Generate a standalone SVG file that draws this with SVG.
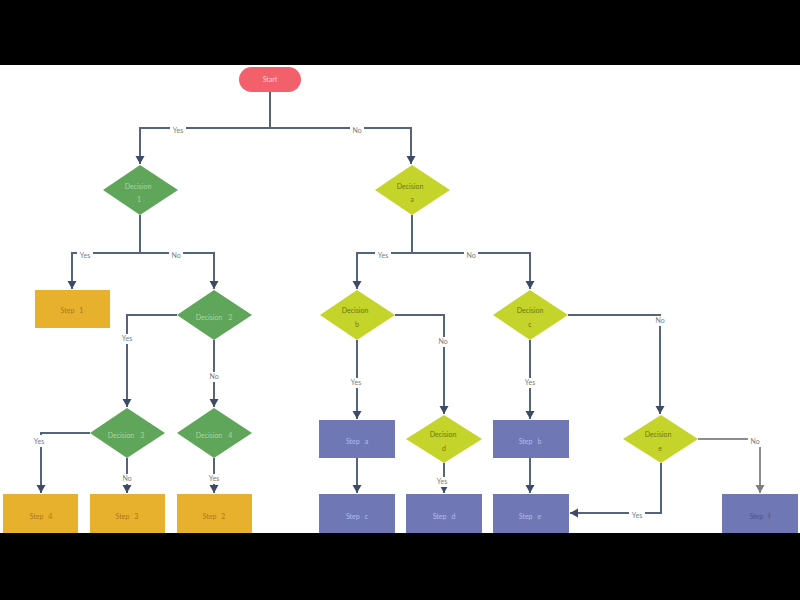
<svg xmlns="http://www.w3.org/2000/svg" width="800" height="600" viewBox="0 0 800 600">
<defs>
<marker id="arr" markerUnits="userSpaceOnUse" markerWidth="10" markerHeight="10" refX="8" refY="4.5" orient="auto"><path d="M0,0 L8,4.5 L0,9 z" fill="#3e4b66"/></marker>
<marker id="arrg" markerUnits="userSpaceOnUse" markerWidth="10" markerHeight="10" refX="8" refY="4.5" orient="auto"><path d="M0,0 L8,4.5 L0,9 z" fill="#7d7d7d"/></marker>
<style>
text{font-family:"Lato","Liberation Sans",sans-serif;font-size:7px;text-anchor:middle}
.c{fill:none;stroke:#56637d;stroke-width:2}
.cg{fill:none;stroke:#8c8c8c;stroke-width:2}
.lb{fill:#ffffff}
.lt{fill:#7a7a7a}
.start{fill:#f2606c}
.g{fill:#5fa55a}
.y{fill:#c5d42a}
.o{fill:#e8b12d}
.p{fill:#6f78b5}
.tg{fill:#a9d6a2}
.ty{fill:#6c7812}
.to{fill:#a8791c}
.tp{fill:#b4bbe4}
.ts{fill:#ffd0d4}
</style>
</defs>
<rect width="800" height="600" fill="#ffffff"/>
<g id="connectors">
<path class="c" d="M270,92 V128 H140 V164" marker-end="url(#arr)"/>
<path class="c" d="M270,128 H411 V164" marker-end="url(#arr)"/>
<path class="c" d="M140,215 V253 H72 V289" marker-end="url(#arr)"/>
<path class="c" d="M140,253 H214 V289" marker-end="url(#arr)"/>
<path class="c" d="M177,315 H127 V407" marker-end="url(#arr)"/>
<path class="c" d="M214,340 V407" marker-end="url(#arr)"/>
<path class="c" d="M90,433 H41 V493" marker-end="url(#arr)"/>
<path class="c" d="M127,458 V493" marker-end="url(#arr)"/>
<path class="c" d="M214,458 V493" marker-end="url(#arr)"/>
<path class="c" d="M412,215 V253 H357 V289" marker-end="url(#arr)"/>
<path class="c" d="M412,253 H530 V289" marker-end="url(#arr)"/>
<path class="c" d="M395,315 H444 V414" marker-end="url(#arr)"/>
<path class="c" d="M357,340 V419" marker-end="url(#arr)"/>
<path class="c" d="M530,340 V419" marker-end="url(#arr)"/>
<path class="c" d="M568,315 H660 V414" marker-end="url(#arr)"/>
<path class="c" d="M357,458 V493" marker-end="url(#arr)"/>
<path class="c" d="M444,463 V493" marker-end="url(#arr)"/>
<path class="c" d="M530,458 V493" marker-end="url(#arr)"/>
<path class="c" d="M661,463 V513 H570" marker-end="url(#arr)"/>
<path class="cg" d="M698,439 H760 V493" marker-end="url(#arrg)"/>
<g>
<rect class="lb" x="170" y="125" width="16" height="10"/><text class="lt" x="178" y="133">Yes</text>
<rect class="lb" x="350" y="125" width="14" height="10"/><text class="lt" x="357" y="133">No</text>
<rect class="lb" x="77" y="250" width="16" height="10"/><text class="lt" x="85" y="258">Yes</text>
<rect class="lb" x="169" y="250" width="14" height="10"/><text class="lt" x="176" y="258">No</text>
<rect class="lb" x="119" y="334" width="16" height="10"/><text class="lt" x="127" y="341">Yes</text>
<rect class="lb" x="207" y="372" width="14" height="10"/><text class="lt" x="214" y="379">No</text>
<rect class="lb" x="30" y="435" width="20" height="12"/><text class="lt" x="39" y="444">Yes</text>
<rect class="lb" x="120" y="474" width="14" height="10"/><text class="lt" x="127" y="481">No</text>
<rect class="lb" x="206" y="474" width="16" height="10"/><text class="lt" x="214" y="481">Yes</text>
<rect class="lb" x="375" y="250" width="16" height="10"/><text class="lt" x="383" y="258">Yes</text>
<rect class="lb" x="464" y="250" width="14" height="10"/><text class="lt" x="471" y="258">No</text>
<rect class="lb" x="436" y="337" width="14" height="10"/><text class="lt" x="443" y="344">No</text>
<rect class="lb" x="348" y="378" width="16" height="10"/><text class="lt" x="356" y="385">Yes</text>
<rect class="lb" x="522" y="378" width="16" height="10"/><text class="lt" x="530" y="385">Yes</text>
<rect class="lb" x="653" y="316" width="14" height="10"/><text class="lt" x="660" y="323">No</text>
<rect class="lb" x="434" y="477" width="16" height="10"/><text class="lt" x="442" y="484">Yes</text>
<rect class="lb" x="629" y="511" width="16" height="10"/><text class="lt" x="637" y="518">Yes</text>
<rect class="lb" x="748" y="437" width="14" height="10"/><text class="lt" x="755" y="444">No</text>
</g>
</g>
<g id="start"><rect class="start" x="239" y="67" width="62" height="25" rx="12.5"/><text class="ts" x="270" y="82">Start</text></g>
<g id="decision1"><polygon class="g" points="140,165 178,190 140,215 103,190"/><text class="tg" x="138" y="189">Decision</text><text class="tg" x="139" y="202">1</text></g>
<g id="decisionA"><polygon class="y" points="412,165 450,190 412,215 375,190"/><text class="ty" x="410" y="189">Decision</text><text class="ty" x="412" y="202">a</text></g>
<g id="step1"><rect class="o" x="35" y="290" width="75" height="38"/><text class="to" x="72" y="313">Step<tspan dx="5">1</tspan></text></g>
<g id="decision2"><polygon class="g" points="214,290 252,315 214,340 177,315"/><text class="tg" x="214" y="320">Decision<tspan dx="6">2</tspan></text></g>
<g id="decision3"><polygon class="g" points="127,408 165,433 127,458 90,433"/><text class="tg" x="126" y="438">Decision<tspan dx="6">3</tspan></text></g>
<g id="decision4"><polygon class="g" points="214,408 252,433 214,458 177,433"/><text class="tg" x="214" y="438">Decision<tspan dx="6">4</tspan></text></g>
<g id="step4"><rect class="o" x="3" y="494" width="75" height="40"/><text class="to" x="41" y="519">Step<tspan dx="5">4</tspan></text></g>
<g id="step3"><rect class="o" x="90" y="494" width="75" height="40"/><text class="to" x="127" y="519">Step<tspan dx="5">3</tspan></text></g>
<g id="step2"><rect class="o" x="177" y="494" width="75" height="40"/><text class="to" x="214" y="519">Step<tspan dx="5">2</tspan></text></g>
<g id="decisionB"><polygon class="y" points="357,290 395,315 357,340 320,315"/><text class="ty" x="355" y="313">Decision</text><text class="ty" x="357" y="327">b</text></g>
<g id="decisionC"><polygon class="y" points="530,290 568,315 530,340 493,315"/><text class="ty" x="530" y="313">Decision</text><text class="ty" x="530" y="327">c</text></g>
<g id="stepA"><rect class="p" x="319" y="420" width="76" height="38"/><text class="tp" x="357" y="444">Step<tspan dx="5">a</tspan></text></g>
<g id="decisionD"><polygon class="y" points="444,415 482,439 444,463 406,439"/><text class="ty" x="443" y="437">Decision</text><text class="ty" x="444" y="451">d</text></g>
<g id="stepB"><rect class="p" x="493" y="420" width="76" height="38"/><text class="tp" x="530" y="444">Step<tspan dx="5">b</tspan></text></g>
<g id="decisionE"><polygon class="y" points="661,415 698,439 661,463 623,439"/><text class="ty" x="658" y="437">Decision</text><text class="ty" x="660" y="451">e</text></g>
<g id="stepC"><rect class="p" x="319" y="494" width="76" height="40"/><text class="tp" x="357" y="519">Step<tspan dx="5">c</tspan></text></g>
<g id="stepD"><rect class="p" x="406" y="494" width="76" height="40"/><text class="tp" x="444" y="519">Step<tspan dx="5">d</tspan></text></g>
<g id="stepE"><rect class="p" x="493" y="494" width="76" height="40"/><text class="tp" x="530" y="519">Step<tspan dx="5">e</tspan></text></g>
<g id="stepF"><rect class="p" x="722" y="494" width="76" height="40"/><text class="ty" x="760" y="519" style="fill:#4d5580">Step<tspan dx="5">f</tspan></text></g>
<rect x="0" y="0" width="800" height="65" fill="#000000"/>
<rect x="0" y="533" width="800" height="67" fill="#000000"/>
</svg>
